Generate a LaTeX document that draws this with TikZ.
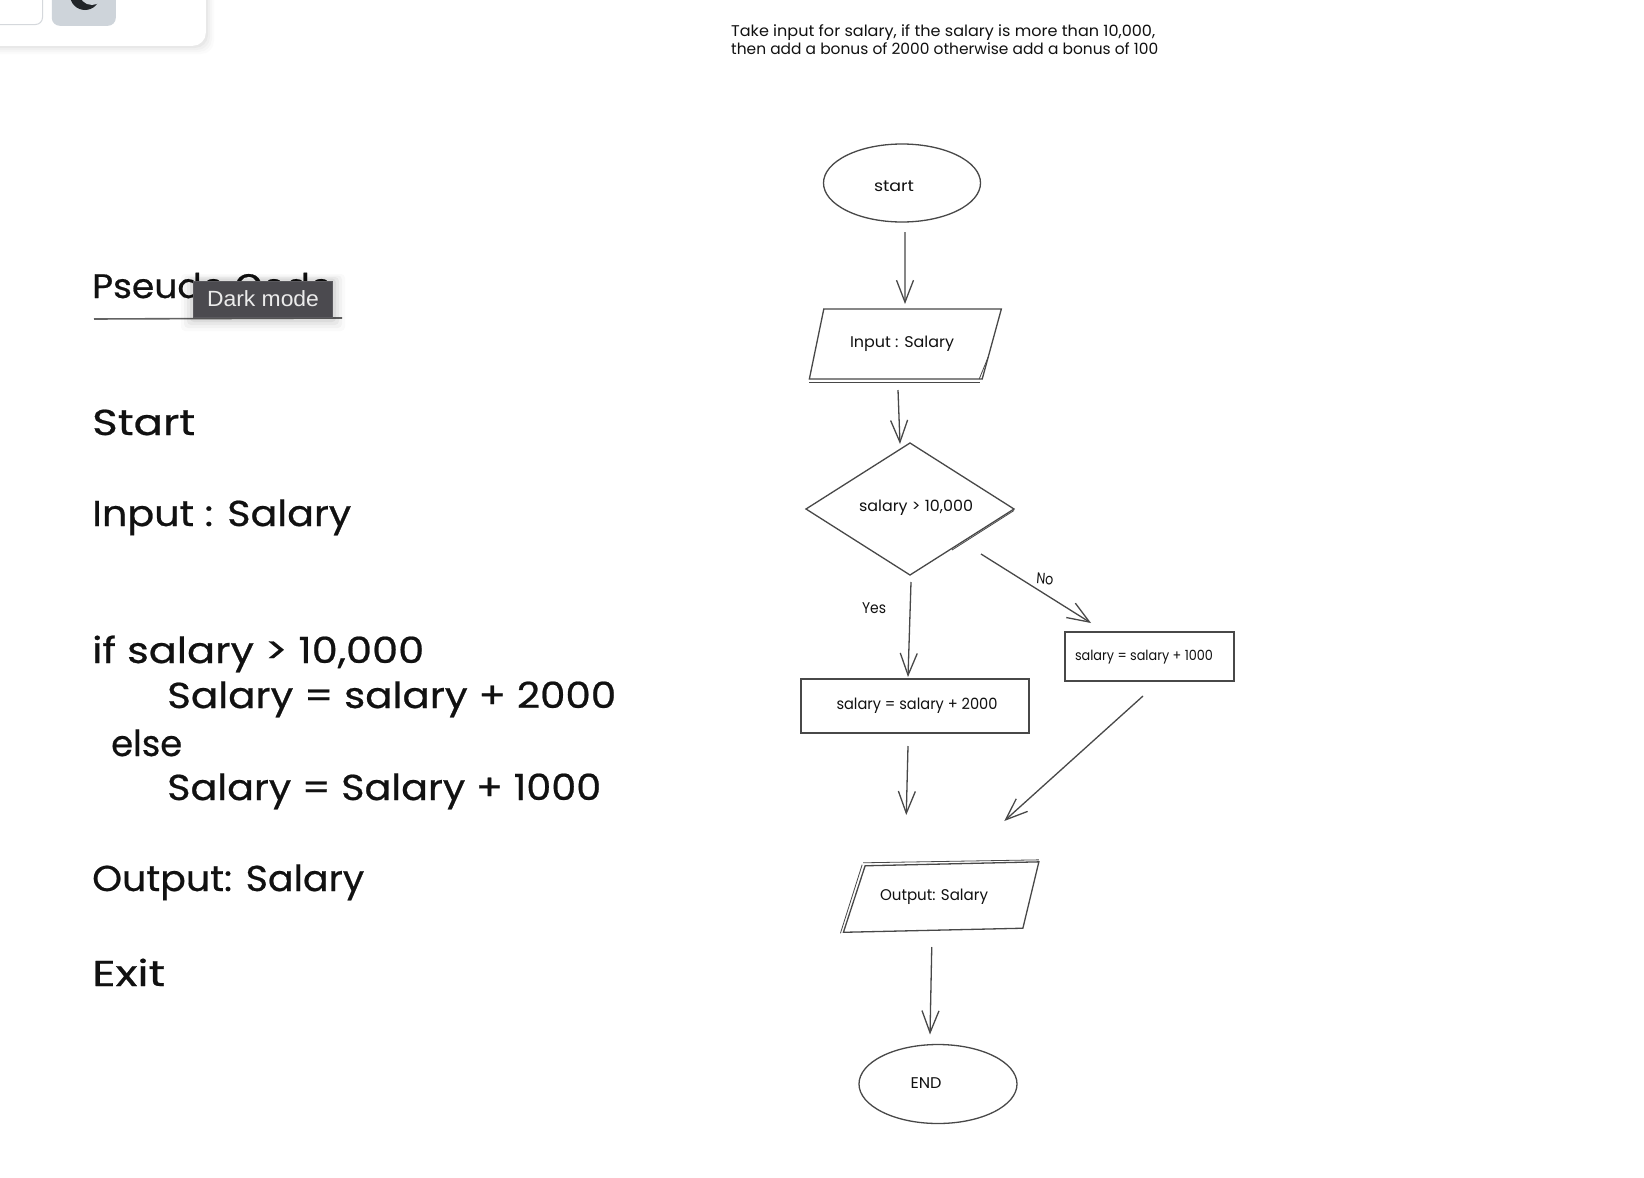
\documentclass[tikz,border=0pt]{standalone}
\usepackage{fontspec}
\usepackage{graphicx}
\setmainfont{Poppins}
\newfontfamily\heavy[FakeBold=0.6]{Poppins}
\newfontfamily\uifont{Liberation Sans}
\usetikzlibrary{shapes.geometric,arrows.meta}
\definecolor{ink}{HTML}{111111}
\definecolor{stroke}{HTML}{484848}
\definecolor{tipbg}{HTML}{4B4A4F}
\definecolor{tipedge}{HTML}{5B5A5F}
\definecolor{btn}{HTML}{CED4DA}
\definecolor{moon}{HTML}{212529}
\definecolor{panelline}{HTML}{D5D8DC}
% width-fitted text: width in px, text
\newcommand{\fitw}[2]{\resizebox{#1pt}{\height}{#2}}
% text shifted inside a node by (dx/2,dy up), keeping its vertical extents
\newcommand{\shft}[3]{\raisebox{#2pt}[\height][\depth]{\kern#1pt #3}}
\tikzset{
  x=1pt,y=-1pt,
  shapeline/.style={draw=stroke,line width=1.3pt,inner sep=0pt,outer sep=0pt,text=ink},
  oval/.style={shapeline,ellipse},
  boxnode/.style={shapeline,rectangle},
  dia/.style={shapeline,diamond,aspect=1.58},
  para/.style={shapeline,trapezium,trapezium stretches body=true},
  arr/.style={draw=stroke,line width=1.3pt,-{Straight Barb[length=22pt,width=17pt,line width=1.3pt]}},
  extra/.style={draw=stroke,line width=.8pt},
  bigtext/.style={anchor=base west,inner sep=0pt,text=ink,font=\heavy\fontsize{36}{36}\selectfont},
  smalltext/.style={anchor=base west,inner sep=0pt,text=ink,font=\fontsize{15.5}{16}\selectfont},
  nodefont/.style={font=\fontsize{15.5}{16}\selectfont}
}
\begin{document}
\begin{tikzpicture}
\useasboundingbox (0,0) rectangle (1644,1178);
\fill[white] (0,0) rectangle (1644,1178);

% top-left panel with soft shadow
\foreach \s/\o in {8/.015,6/.02,4/.025,2/.03}{
  \fill[black,opacity=\o,rounded corners=13pt] (-30,-30) rectangle (206+\s,46+\s);
}
\node[draw=none,fill=white,rounded corners=13pt,minimum width=236pt,minimum height=76pt,inner sep=0pt,anchor=south east] (panel) at (206,46) {};
\node[draw=panelline,line width=1pt,fill=white,rounded corners=7pt,minimum width=63pt,minimum height=45pt,inner sep=0pt,anchor=south east] (field) at (43,25) {};
\node[fill=btn,rounded corners=8pt,minimum width=64pt,minimum height=46pt,inner sep=0pt,anchor=south east] (button) at (116,26) {};
\fill[moon] (85,-5) circle (15);
\fill[btn] (92,-8) circle (13);

% heading
\node[smalltext] (h1) at (731,36) {\fitw{424}{Take input for salary, if the salary is more than 10,000,}};
\node[smalltext] (h2) at (731,54) {\fitw{427}{then add a bonus of 2000 otherwise add a bonus of 100}};

% pseudo code
\node[bigtext,font=\heavy\fontsize{34}{34}\selectfont] (pc) at (92,298) {\fitw{240}{Pseudo Code}};
\coordinate (ulA) at (94,319);
\coordinate (ulB) at (342,318);
\draw[draw=stroke!85,line width=1.6pt] (ulA) -- (ulB);
\node[bigtext] (t1) at (92,435) {\fitw{103}{Start}};
\node[bigtext] (t2) at (92,526) {\fitw{259}{Input : Salary}};
\node[bigtext] (t3) at (92,663) {\fitw{332}{if salary > 10,000}};
\node[bigtext] (t4) at (167,708) {\fitw{449}{Salary = salary + 2000}};
\node[bigtext] (t5) at (111,756) {\fitw{71}{else}};
\node[bigtext] (t6) at (167,800) {\fitw{434}{Salary = Salary + 1000}};
\node[bigtext] (t7) at (92,891) {\fitw{272}{Output: Salary}};
\node[bigtext] (t8) at (92,986) {\fitw{73}{Exit}};

% tooltip
\foreach \s/\o in {12/.02,9/.03,6/.04,3/.05}{
  \fill[black,opacity=\o,rounded corners=4pt] (193-\s,280-\s/2) rectangle (333+\s,316+\s+3);
}
\node[fill=tipbg,draw=tipedge,line width=1pt,minimum width=139pt,minimum height=36pt,inner sep=0pt,text=white!92!black,font=\uifont\fontsize{22}{22}\selectfont] (tip) at (263,299) {\fitw{112}{Dark mode}};

% flowchart nodes
\node[oval,minimum width=157pt,minimum height=78pt,nodefont] (start) at (902,183) {\shft{-16}{-3}{\fitw{40}{start}}};
\node[para,trapezium left angle=47,trapezium right angle=141,minimum width=192pt,minimum height=70pt,nodefont] (input) at (903,344) {\shft{-2}{0}{\fitw{104}{Input : Salary}}};
\node[dia,minimum width=208pt,minimum height=132pt,nodefont] (dec) at (910,509) {\shft{12}{1}{\fitw{114}{salary > 10,000}}};
\node[boxnode,minimum width=228pt,minimum height=54pt,nodefont] (bonusA) at (915,706) {\shft{4}{0}{\fitw{161}{salary = salary + 2000}}};
\node[boxnode,minimum width=169pt,minimum height=49pt,font=\fontsize{14}{14}\selectfont] (bonusB) at (1149.5,656.5) {\shft{-11}{-1}{\fitw{138}{salary = salary + 1000}}};
\node[para,rotate=1.3,trapezium left angle=37,trapezium right angle=135,minimum width=197pt,minimum height=66pt,nodefont] (output) at (944,897) {\rotatebox{-1.3}{\shft{-20}{0}{\fitw{108}{Output: Salary}}}};
\node[oval,minimum width=158pt,minimum height=79pt,nodefont] (finish) at (938,1084) {\shft{-24}{1}{\fitw{31}{END}}};

% labels
\node[nodefont,inner sep=0pt,text=ink] (yes) at (874,608) {\fitw{24}{Yes}};
\node[nodefont,inner sep=0pt,text=ink,rotate=-5] (no) at (1045,579) {\fitw{17}{No}};

% sketchy second strokes
\draw[extra] ([shift={(0,3)}]input.bottom left corner) -- ([shift={(-2,3)}]input.bottom right corner);
\draw[extra] ([shift={(-3,0)}]input.bottom right corner) -- ([shift={(6,-22)}]input.bottom right corner);
\draw[extra] ([shift={(-2,-3)}]output.top left corner) -- ([shift={(0,-2)}]output.top right corner);
\draw[extra] ([shift={(-3,-1)}]output.top left corner) -- ([shift={(-3,1)}]output.bottom left corner);
\draw[extra] ([shift={(0,1.5)}]dec.east) -- ([shift={(-62,41)}]dec.east);

% connectors
\draw[arr] ([shift={(3,10)}]start.south) -- ([shift={(2,-5)}]input.north);
\draw[arr] ([shift={(-5,11)}]input.south) -- ([shift={(-10,1)}]dec.north);
\draw[arr] ([shift={(1,7)}]dec.south) -- ([shift={(-7,-2)}]bonusA.north);
\draw[arr] ([shift={(-33,45)}]dec.east) -- ([shift={(-58.5,-9)}]bonusB.north);
\draw[arr] ([shift={(-7,13)}]bonusA.south) -- ([shift={(-37,-49)}]output.north);
\draw[arr] ([shift={(-6.5,15)}]bonusB.south) -- ([shift={(61,-43)}]output.north);
\draw[arr] ([shift={(-13,17)}]output.south) -- ([shift={(-8,-10)}]finish.north);
\end{tikzpicture}
\end{document}
